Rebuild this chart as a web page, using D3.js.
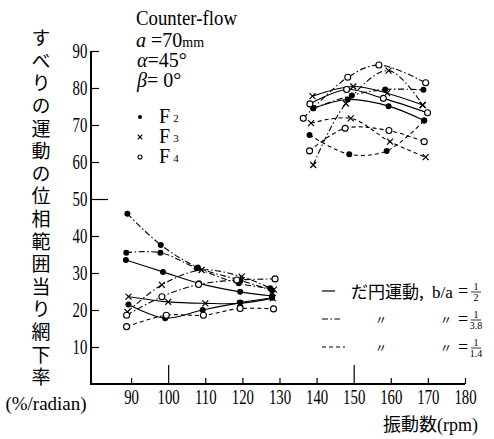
<!DOCTYPE html>
<html>
<head>
<meta charset="utf-8">
<script src="https://cdn.jsdelivr.net/npm/d3@7"></script>
<style>
  body { margin: 0; background: #fff; }
  svg { display: block; }
</style>
</head>
<body>
<script>
// Axis ticks
const xTicks = [90, 100, 110, 120, 130, 140, 150, 160, 170, 180];
const yTicks = [10, 20, 30, 40, 50, 60, 70, 80, 90];
const xLongTicks = [100, 150];
const yLongTicks = [50];

// Low-frequency group: [rpm, %/radian]
const lowF2Solid   = [[88.6, 33.5], [98.6, 30.3], [108.3, 27.2], [119.4, 24.9], [128, 23.8]];
const lowF2Solid2  = [[89.3, 21.5], [99.2, 17.8], [109.3, 20.0], [119.4, 22.0], [128, 23.3]];
const lowF2DashDot = [[88.7, 35.5], [97.9, 35.5], [107.7, 31.3], [119.0, 27.2], [127.5, 25.9]];
const lowF2Dashed  = [[89.0, 46.0], [98.0, 37.6], [108.0, 31.5], [119.5, 28.0], [128, 25.3]];
const lowF3Solid   = [[89.3, 23.6], [100, 22.2], [110, 21.8], [119.4, 21.8], [128.2, 23.2]];
const lowF3DashDot = [[89.0, 19.5], [98.3, 26.8], [109, 30.8], [119.8, 29.0], [128.5, 25.5]];
const lowF4DashDot = [[88.8, 18.6], [98.3, 23.6], [108.2, 26.9], [118.5, 28.1], [128.8, 28.4]];
const lowF4Dashed  = [[88.8, 15.5], [99.5, 18.6], [109.5, 18.6], [119.4, 20.4], [128.4, 20.3]];

// High-frequency group
const highF2Solid   = [[139.1, 74.5], [148.4, 76.9], [159.4, 75.1], [169.0, 71.2]];
const highF2DashDot = [[139.1, 74.5], [149.5, 78.0], [158.5, 79.6], [168.8, 79.5]];
const highF2Dashed  = [[138.1, 67.3], [148.8, 62.1], [158.9, 63.0], [169.0, 71.2]];
const highF3Solid   = [[138.9, 77.8], [149.9, 80.4], [159.0, 78.6], [168.6, 75.4]];
const highF3DashDot = [[139.1, 59.2], [147.9, 75.8], [159.4, 84.7], [168.6, 75.4]];
const highF3Dashed  = [[138.5, 70.5], [149.2, 71.8], [159.8, 65.5], [169.4, 61.3]];
const highF4Solid   = [[138.2, 75.7], [148.1, 79.6], [158.0, 77.2], [169.9, 73.3]];
const highF4DashDot = [[136.4, 71.8], [148.4, 82.9], [156.8, 86.2], [169.4, 81.4]];
const highF4Dashed  = [[138.1, 63.0], [147.7, 69.1], [159.5, 68.5], [169.0, 65.5]];

// Line styles for the three b/a ratios
const dashStyles = { solid: null, dashdot: "6,2.5,1.5,2.5", dashed: "4,3" };

const series = [
  { pts: lowF2Solid, marker: "dot", style: "solid" },
  { pts: lowF2Solid2, marker: "dot", style: "solid" },
  { pts: lowF2DashDot, marker: "dot", style: "dashdot" },
  { pts: lowF2Dashed, marker: "dot", style: "dashdot" },
  { pts: lowF3Solid, marker: "cross", style: "solid" },
  { pts: lowF3DashDot, marker: "cross", style: "dashdot" },
  { pts: lowF4DashDot, marker: "circle", style: "dashdot" },
  { pts: lowF4Dashed, marker: "circle", style: "dashed" },
  { pts: highF2Solid, marker: "dot", style: "solid" },
  { pts: highF2DashDot, marker: "dot", style: "dashdot" },
  { pts: highF2Dashed, marker: "dot", style: "dashed" },
  { pts: highF3Solid, marker: "cross", style: "solid" },
  { pts: highF3DashDot, marker: "cross", style: "dashdot" },
  { pts: highF3Dashed, marker: "cross", style: "dashed" },
  { pts: highF4Solid, marker: "circle", style: "solid" },
  { pts: highF4DashDot, marker: "circle", style: "dashdot" },
  { pts: highF4Dashed, marker: "circle", style: "dashed" }
];

const yTitle = "すべりの運動の位相範囲当り網下率";
const serif = "Liberation Serif, DejaVu Serif, serif";
const cjk = "Noto Sans CJK JP, Noto Sans CJK SC, sans-serif";

const W = 494, H = 439;
const svg = d3.select("body").append("svg").attr("width", W).attr("height", H);

const x = d3.scaleLinear().domain([79.2, 180]).range([91, 465]);
const y = d3.scaleLinear().domain([0, 90]).range([384, 51]);

// ---- Axes ----
const xAxis = d3.axisBottom(x).tickValues(xTicks).tickSizeInner(-6).tickSizeOuter(0).tickPadding(6)
  .tickFormat(d3.format("d"));
const gx = svg.append("g").attr("transform", `translate(0,${y(0)})`).call(xAxis)
  .attr("font-family", serif).attr("font-size", 20);
gx.select(".domain").remove();
gx.selectAll(".tick line").attr("stroke-width", 1.2)
  .attr("y2", d => xLongTicks.includes(d) ? -19 : -6);
gx.selectAll(".tick text").attr("transform", "scale(0.74,1)");

const yAxis = d3.axisLeft(y).tickValues(yTicks).tickSizeInner(-8).tickSizeOuter(0).tickPadding(5)
  .tickFormat(d3.format("d"));
const gy = svg.append("g").attr("transform", `translate(${x(79.2)},0)`).call(yAxis)
  .attr("font-family", serif).attr("font-size", 20);
gy.select(".domain").remove();
gy.selectAll(".tick line").attr("stroke-width", 1.2)
  .attr("x2", d => yLongTicks.includes(d) ? 17 : 8);
gy.selectAll(".tick text").attr("transform", "scale(0.74,1)");

// main axis lines
svg.append("line").attr("x1", x(79.2)).attr("x2", x(180)).attr("y1", y(0)).attr("y2", y(0))
  .attr("stroke", "#000").attr("stroke-width", 2);
svg.append("line").attr("x1", x(79.2)).attr("x2", x(79.2)).attr("y1", y(0) + 1).attr("y2", y(90))
  .attr("stroke", "#000").attr("stroke-width", 2);

// ---- Curves ----
const line = d3.line().x(d => x(d[0])).y(d => y(d[1])).curve(d3.curveCatmullRom.alpha(0.5));
const gLines = svg.append("g");
gLines.selectAll("path").data(series).join("path")
  .attr("d", s => line(s.pts))
  .attr("fill", "none").attr("stroke", "#000").attr("stroke-width", 1.1)
  .attr("stroke-dasharray", s => dashStyles[s.style]);

// ---- Markers ----
function drawMarker(g, type, cx, cy, r) {
  if (type === "dot") {
    g.append("circle").attr("cx", cx).attr("cy", cy).attr("r", r).attr("fill", "#000");
  } else if (type === "circle") {
    g.append("circle").attr("cx", cx).attr("cy", cy).attr("r", r)
      .attr("fill", "#fff").attr("stroke", "#000").attr("stroke-width", 1.1);
  } else {
    g.append("path")
      .attr("d", `M${cx - r},${cy - r}L${cx + r},${cy + r}M${cx - r},${cy + r}L${cx + r},${cy - r}`)
      .attr("stroke", "#000").attr("stroke-width", 1.2);
  }
}
const gMarks = svg.append("g");
series.forEach(s => s.pts.forEach(p => drawMarker(gMarks, s.marker, x(p[0]), y(p[1]), 3)));

// ---- Y axis title (vertical, one text run) ----
svg.append("text").attr("x", 41).attr("y", 28.5)
  .style("writing-mode", "vertical-rl").style("letter-spacing", "3.6px")
  .attr("font-family", cjk).attr("font-size", 19).text(yTitle);
svg.append("text").attr("x", 46).attr("y", 410).attr("text-anchor", "middle")
  .attr("font-family", serif).attr("font-size", 19).text("(%/radian)");

// ---- X axis title ----
const xt = svg.append("text").attr("x", 383).attr("y", 431).attr("font-size", 18);
xt.append("tspan").attr("font-family", cjk).text("振動数");
xt.append("tspan").attr("font-family", serif).text("(rpm)");

// ---- Conditions block ----
svg.append("text").attr("x", 136).attr("y", 25).attr("font-family", serif).attr("font-size", 20)
  .attr("textLength", 101).attr("lengthAdjust", "spacingAndGlyphs").text("Counter-flow");
const t1 = svg.append("text").attr("x", 136).attr("y", 47).attr("font-family", serif).attr("font-size", 20);
t1.append("tspan").attr("font-style", "italic").text("a");
t1.append("tspan").text(" =70");
t1.append("tspan").attr("font-size", 14).text("mm");
const t2 = svg.append("text").attr("x", 137).attr("y", 67).attr("font-family", serif).attr("font-size", 20);
t2.append("tspan").attr("font-style", "italic").text("α");
t2.append("tspan").text("=45°");
const t3 = svg.append("text").attr("x", 137).attr("y", 87).attr("font-family", serif).attr("font-size", 20);
t3.append("tspan").attr("font-style", "italic").text("β");
t3.append("tspan").text("= 0°");

// Marker legend
const markerLegend = [["dot", "2"], ["cross", "3"], ["circle", "4"]];
const gML = svg.append("g");
markerLegend.forEach((m, i) => {
  const cy = 117 + i * 20;
  drawMarker(gML, m[0], 140, cy, m[0] === "cross" ? 2.3 : 2);
  const t = gML.append("text").attr("x", 159).attr("y", cy + 6).attr("font-family", serif).attr("font-size", 20);
  t.append("tspan").text("F");
  t.append("tspan").attr("font-size", 11).attr("dx", 3).attr("dy", -1).text(m[1]);
});

// Line-style legend
const ratioLegend = [
  { style: "solid", len: 13, num: "1", den: "2", first: true },
  { style: "dashdot", len: 18, num: "1", den: "3.8" },
  { style: "dashed", len: 23, num: "1", den: "1.4" }
];
const gRL = svg.append("g");
ratioLegend.forEach((r, i) => {
  const cy = 291 + i * 28;
  gRL.append("line").attr("x1", 322).attr("x2", 322 + r.len).attr("y1", cy).attr("y2", cy)
    .attr("stroke", "#000").attr("stroke-width", 1.2).attr("stroke-dasharray", dashStyles[r.style]);
  if (r.first) {
    const t = gRL.append("text").attr("x", 351).attr("y", cy + 7).attr("font-size", 17);
    t.append("tspan").attr("font-family", cjk).text("だ円運動,");
    t.append("tspan").attr("font-family", serif).attr("x", 432).text("b/a");
  } else {
    gRL.append("text").attr("x", 381).attr("y", cy + 6).attr("text-anchor", "middle")
      .attr("font-family", cjk).attr("font-size", 12).text("〃");
    gRL.append("text").attr("x", 446).attr("y", cy + 6).attr("text-anchor", "middle")
      .attr("font-family", cjk).attr("font-size", 12).text("〃");
  }
  gRL.append("text").attr("x", 458).attr("y", cy + 6).attr("font-family", serif).attr("font-size", 18).text("=");
  const fx = 476;
  gRL.append("text").attr("x", fx).attr("y", cy - 1).attr("text-anchor", "middle")
    .attr("font-family", serif).attr("font-size", 10).text(r.num);
  gRL.append("line").attr("x1", fx - 5).attr("x2", fx + 5).attr("y1", cy + 1).attr("y2", cy + 1)
    .attr("stroke", "#000").attr("stroke-width", 0.8);
  gRL.append("text").attr("x", fx).attr("y", cy + 10).attr("text-anchor", "middle")
    .attr("font-family", serif).attr("font-size", 10).text(r.den);
});
</script>
</body>
</html>
